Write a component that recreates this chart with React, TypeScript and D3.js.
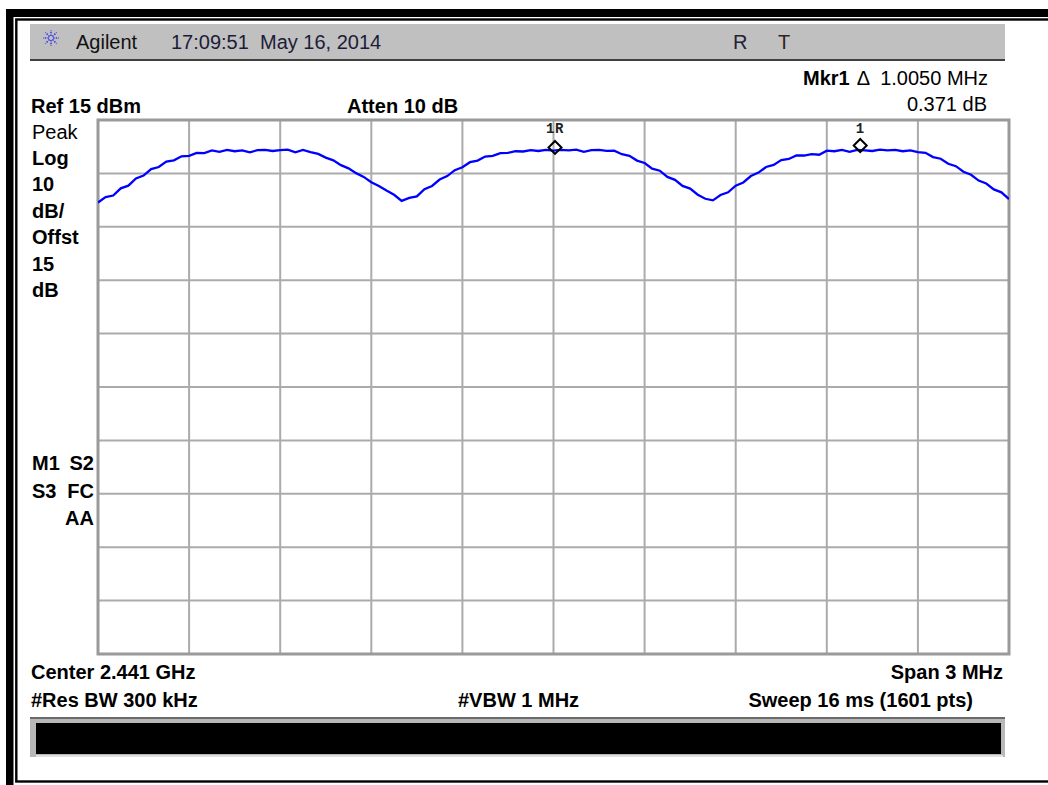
import * as d3 from 'd3';
import React, { useRef, useEffect } from 'react';

// sweep: 2439.5 .. 2442.5 MHz, one reading every 0.025 MHz
const freqStartMHz = 2439.5
const freqStopMHz = 2442.5
const freqStepMHz = 0.025
const traceDbm = [
  -0.45, 0.55, 0.85, 2.20, 2.70, 4.05, 4.60, 5.80, 6.20, 7.20, 7.45, 8.20, 8.30, 8.85, 8.80, 9.30,
  9.05, 9.40, 9.15, 9.30, 8.95, 9.35, 9.40, 9.20, 9.35, 9.45, 8.95, 9.40, 9.00, 8.65, 7.95, 7.45,
  6.55, 5.95, 5.05, 4.35, 3.35, 2.65, 1.80, 1.00, -0.15,
  0.40, 0.70, 2.05, 2.65, 3.85, 4.50, 5.60, 6.15, 7.10, 7.40, 8.15, 8.30, 8.80, 8.85, 9.15, 9.10,
  9.35, 9.20, 9.40, 9.25, 9.40, 9.30, 9.45, 9.05, 9.35, 9.40, 9.20, 9.25, 8.60, 8.30, 7.40, 6.95,
  5.90, 5.50, 4.35, 3.80, 2.65, 2.15, 1.00, 0.25,
  -0.05, 0.95, 1.45, 2.70, 3.30, 4.50, 5.15, 6.20, 6.60, 7.50, 7.70, 8.35, 8.35, 8.60, 8.50, 9.25,
  9.15, 9.40, 9.05, 9.40, 9.30, 9.20, 9.45, 9.30, 9.40, 9.15, 9.30, 9.00, 8.85, 8.05, 7.75, 6.80,
  6.35, 5.30, 4.75, 3.65, 3.10, 2.00, 1.45, 0.20
]

const refLevel = 15
const dbPerDiv = 10
const divisions = 10

const markerNames = ["1R", "1"]
const markerFreqMHz = [2441.005, 2442.010]
const markerDbm = [9.30, 9.67]

const leftLabels = ["Peak", "Log", "10", "dB/", "Offst", "15", "dB"]
const statusLeft = ["M1", "S3", ""]
const statusRight = ["S2", "FC", "AA"]

const font = "'Liberation Sans', Arial, sans-serif"

var plot = { left: 98, right: 1009, top: 120, bottom: 654 }

function App() {
  const ref = useRef(null);

  useEffect(() => {
    const svg = d3.select(ref.current)
    svg.selectAll('*').remove()
    draw(svg)
  })

  const draw = (svg) => {
    svg.append("rect").attr("width", 1048).attr("height", 785).attr("fill", "#fff")

    // outer frame
    svg.append("rect").attr("x", 6).attr("y", 9).attr("width", 1042).attr("height", 8).attr("fill", "#000")
    svg.append("rect").attr("x", 6).attr("y", 9).attr("width", 7.5).attr("height", 776).attr("fill", "#000")
    svg.append("rect")
      .attr("x", 16.3).attr("y", 19.5).attr("width", 1040).attr("height", 762)
      .attr("fill", "none").attr("stroke", "#000").attr("stroke-width", 2.4)

    // title bar
    svg.append("rect").attr("x", 30).attr("y", 24).attr("width", 975).attr("height", 36).attr("fill", "#c0c0c0")
    svg.append("line").attr("x1", 30).attr("x2", 1005).attr("y1", 60).attr("y2", 60)
      .attr("stroke", "#404040").attr("stroke-width", 2)

    // agilent spark
    const logo = svg.append("g").attr("transform", "translate(51,38)")
    d3.range(0, 8).forEach(k => {
      const a = k * Math.PI / 4
      logo.append("line")
        .attr("x1", Math.cos(a) * 2).attr("y1", Math.sin(a) * 2)
        .attr("x2", Math.cos(a) * 8).attr("y2", Math.sin(a) * 8)
        .attr("stroke", "#3a3ae8").attr("stroke-width", 1.6).attr("stroke-dasharray", "1.5,1.2")
    })

    const txt = (x, y, s, opts = {}) => svg.append("text")
      .attr("x", x).attr("y", y)
      .attr("font-family", font)
      .attr("font-size", opts.size || 20)
      .attr("font-weight", opts.bold ? "bold" : "normal")
      .attr("text-anchor", opts.anchor || "start")
      .attr("fill", opts.color || "#000")
      .style("white-space", "pre")
      .text(s)

    txt(76, 49, "Agilent", { color: "#111" })
    txt(171, 49, "17:09:51  May 16, 2014", { color: "#1c1c38" })
    txt(733, 49, "R", { color: "#223" })
    txt(778, 49, "T", { color: "#322" })

    txt(803, 85, "Mkr1", { bold: true })
    txt(988, 85, "\u0394  1.0050 MHz", { anchor: "end" })
    txt(987, 111, "0.371 dB", { anchor: "end" })

    txt(31, 113, "Ref 15 dBm", { bold: true })
    txt(347, 113, "Atten 10 dB", { bold: true })

    leftLabels.forEach((s, i) => txt(32, 138.5 + i * 26.4, s, { bold: i > 0 }))
    statusLeft.forEach((s, i) => txt(32, 470 + i * 27.5, s, { bold: true }))
    statusRight.forEach((s, i) => txt(94, 470 + i * 27.5, s, { bold: true, anchor: "end" }))

    txt(31, 679, "Center 2.441 GHz", { bold: true })
    txt(31, 706.5, "#Res BW 300 kHz", { bold: true })
    txt(458, 706.5, "#VBW 1 MHz", { bold: true })
    txt(1003, 679, "Span 3 MHz", { bold: true, anchor: "end" })
    txt(973, 706.5, "Sweep 16 ms (1601 pts)", { bold: true, anchor: "end" })

    // status bar
    svg.append("rect").attr("x", 30).attr("y", 717).attr("width", 975).attr("height", 40).attr("fill", "#b8b8b8")
    svg.append("line").attr("x1", 30).attr("x2", 1005).attr("y1", 718).attr("y2", 718)
      .attr("stroke", "#6a6a6a").attr("stroke-width", 2)
    svg.append("rect").attr("x", 36).attr("y", 723).attr("width", 965).attr("height", 31).attr("fill", "#000")
    svg.append("line").attr("x1", 36).attr("x2", 1003).attr("y1", 756).attr("y2", 756)
      .attr("stroke", "#e0e0e0").attr("stroke-width", 2)

    // scales
    const x = d3.scaleLinear().domain([freqStartMHz, freqStopMHz]).range([plot.left, plot.right])
    const y = d3.scaleLinear()
      .domain([refLevel - dbPerDiv * divisions, refLevel])
      .range([plot.bottom, plot.top])

    const xSpan = (freqStopMHz - freqStartMHz) / divisions
    const g = svg.append("g")
    d3.range(1, divisions).forEach(i => {
      g.append("line")
        .attr("x1", x(freqStartMHz + i * xSpan)).attr("x2", x(freqStartMHz + i * xSpan))
        .attr("y1", plot.top).attr("y2", plot.bottom)
        .attr("stroke", "#ababab").attr("stroke-width", 2)
      const lv = refLevel - i * dbPerDiv
      g.append("line")
        .attr("x1", plot.left).attr("x2", plot.right)
        .attr("y1", y(lv)).attr("y2", y(lv))
        .attr("stroke", "#ababab").attr("stroke-width", 2)
    })
    g.append("rect")
      .attr("x", plot.left).attr("y", plot.top)
      .attr("width", plot.right - plot.left).attr("height", plot.bottom - plot.top)
      .attr("fill", "none").attr("stroke", "#9a9a9a").attr("stroke-width", 3)

    // trace
    svg.append("clipPath").attr("id", "plotclip")
      .append("rect").attr("x", plot.left).attr("y", plot.top)
      .attr("width", plot.right - plot.left).attr("height", plot.bottom - plot.top)

    const line = d3.line()
      .x((d, i) => x(freqStartMHz + i * freqStepMHz))
      .y(d => y(d))

    svg.append("path")
      .datum(traceDbm)
      .attr("clip-path", "url(#plotclip)")
      .attr("d", line)
      .attr("fill", "none")
      .attr("stroke", "#0000ff")
      .attr("stroke-width", 2.3)
      .attr("stroke-linejoin", "miter")

    // markers
    markerNames.forEach((name, i) => {
      const mx = x(markerFreqMHz[i])
      const my = y(markerDbm[i]) - 3
      svg.append("path")
        .attr("d", `M${mx},${my - 6.5} L${mx + 6.5},${my} L${mx},${my + 6.5} L${mx - 6.5},${my} Z`)
        .attr("fill", "none").attr("stroke", "#000").attr("stroke-width", 2)
      svg.append("text")
        .attr("x", mx).attr("y", 133)
        .attr("text-anchor", "middle")
        .attr("font-family", "'Liberation Mono', 'DejaVu Sans Mono', monospace")
        .attr("font-size", 14)
        .attr("font-weight", "bold")
        .attr("letter-spacing", 0.5)
        .attr("fill", "#222")
        .text(name)
    })
  }

  return (
    <svg ref={ref} width={1048} height={785}
      style={{ position: "absolute", left: 0, top: 0, display: "block" }}>
    </svg>
  )
}

export default App;
